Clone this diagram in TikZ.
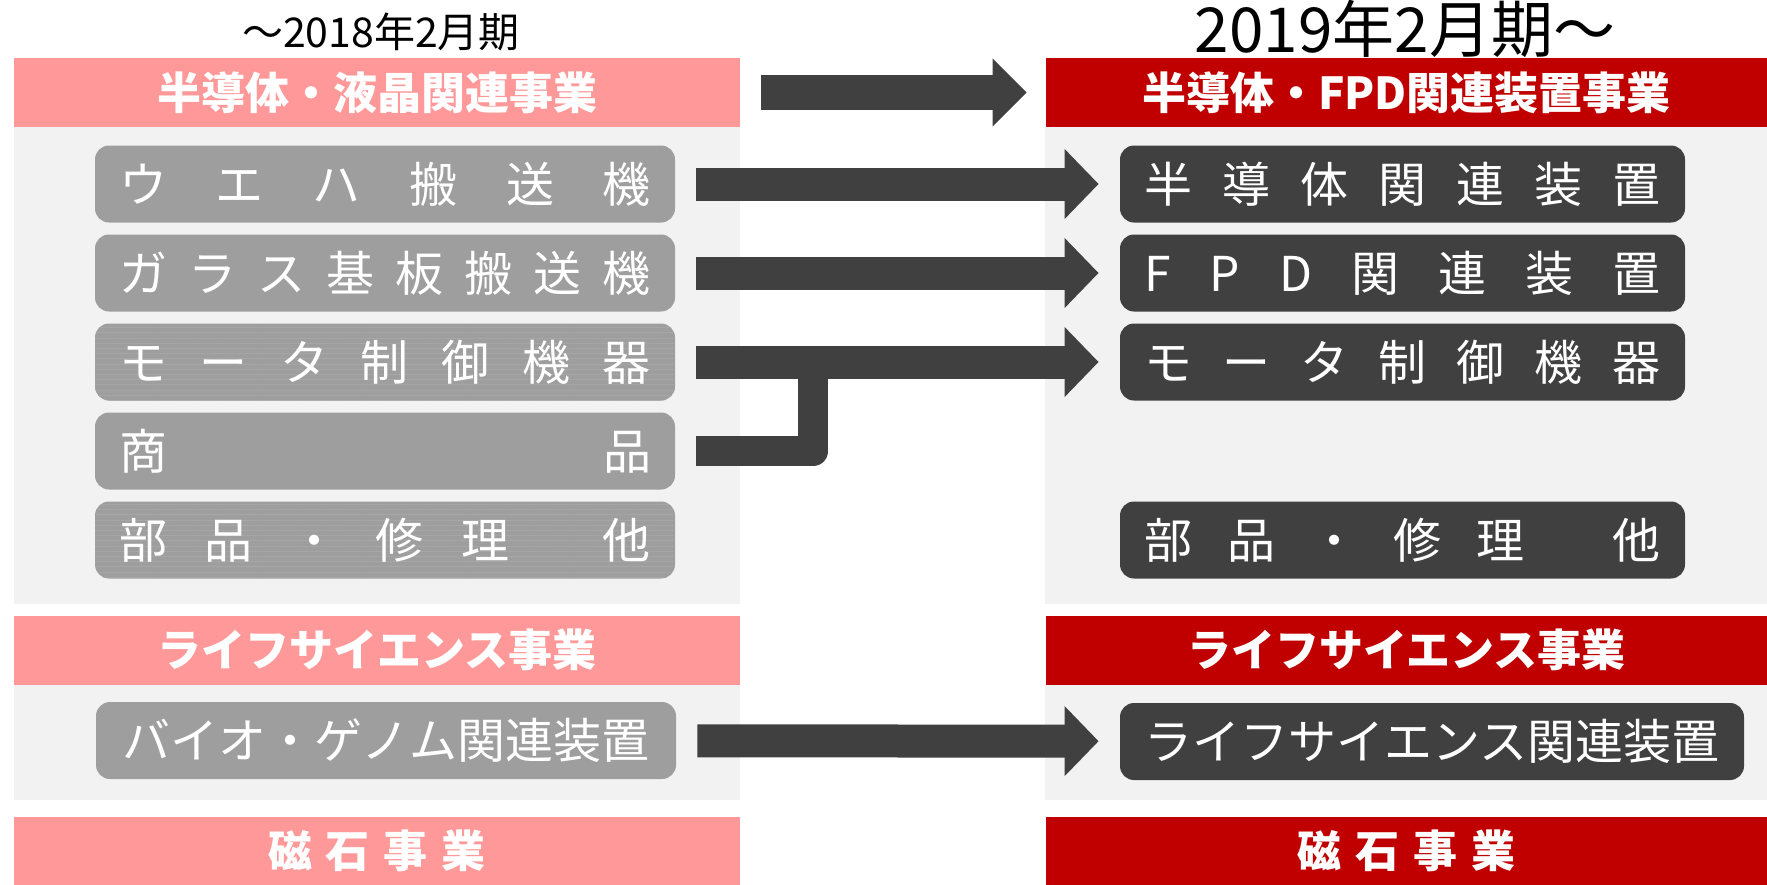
\documentclass[tikz,border=0pt]{standalone}
\usepackage{fontspec}
\usepackage{xcolor}
\usepackage{tikz}
\usetikzlibrary{arrows.meta,positioning,patterns.meta}

\setmainfont{Noto Sans CJK JP}

\definecolor{oldhead}{HTML}{FF9999}
\definecolor{newhead}{HTML}{C00000}
\definecolor{panel}{HTML}{F2F2F2}
\definecolor{oldbox}{HTML}{9E9E9E}
\definecolor{newbox}{HTML}{404040}

% characters spread over a fixed width
\newcommand{\spreadtext}[2]{\makebox[#1][s]{#2}}

\begin{document}
\begin{tikzpicture}[
    x=0.5pt, y=-0.5pt,
    node distance=44.5pt,
    header/.style={
        rectangle,
        minimum width=363pt,
        minimum height=34.5pt,
        inner sep=0pt,
        text=white,
        font=\fontsize{22pt}{24pt}\selectfont\bfseries
    },
    oldhdr/.style={header, fill=oldhead},
    newhdr/.style={header, fill=newhead, minimum width=360.5pt},
    item/.style={
        rectangle,
        rounded corners=7pt,
        minimum height=38.5pt,
        inner sep=0pt,
        text=white,
        font=\fontsize{24pt}{26pt}\selectfont
    },
    olditem/.style={item, fill=oldbox, minimum width=290pt},
    newitem/.style={item, fill=newbox, minimum width=282.5pt},
    striped/.style={
        postaction={pattern={Lines[distance=2.6pt,line width=0.3pt]}, pattern color=black!35}
    },
    line/.style={
        draw=newbox, line width=16.5pt,
        -{Triangle[length=17pt,width=34pt]},
        shorten <=10.5pt, shorten >=10.5pt
    },
    bigline/.style={
        line, line width=17.5pt,
        -{Triangle[length=17pt,width=33pt]},
        shorten >=9.5pt
    },
    feed/.style={
        draw=newbox, line width=15pt, line join=round,
        shorten <=10.5pt
    },
    title/.style={font=\fontsize{#1}{#1}\selectfont, inner sep=0pt}
]
    \useasboundingbox (0,0) rectangle (1767,884);

    % Panels
    \fill[panel] (14,127) rectangle (740,604);
    \fill[panel] (1045,127) rectangle (1767,604);
    \fill[panel] (14,685) rectangle (740,800);
    \fill[panel] (1045,685) rectangle (1767,800);

    % Titles
    \node[title=20.5pt] (oldtitle) at (381,32) {～2018年2月期};
    \node[title=31pt] (newtitle) at (1405,29) {2019年2月期～};

    % Headers
    \node[oldhdr] (oldsemi) at (377,92.5) {半導体・液晶関連事業};
    \node[newhdr] (newsemi) at (1406.5,92.5) {半導体・FPD関連装置事業};
    \node[oldhdr] (oldlife) at (377,650) {ライフサイエンス事業};
    \node[newhdr] (newlife) at (1406.5,650) {ライフサイエンス事業};
    \node[oldhdr] (oldmag) at (377,851) {磁\hspace{7pt}石\hspace{7pt}事\hspace{7pt}業};
    \node[newhdr] (newmag) at (1406.5,851) {磁\hspace{7pt}石\hspace{7pt}事\hspace{7pt}業};

    % Old items
    \node[olditem] (lwafer) at (385,184) {\spreadtext{266pt}{ウ\hfill エ\hfill ハ\hfill 搬\hfill 送\hfill 機}};
    \node[olditem, below of=lwafer] (lglass) {\spreadtext{266pt}{ガ\hfill ラ\hfill ス\hfill 基\hfill 板\hfill 搬\hfill 送\hfill 機}};
    \node[olditem, striped, below of=lglass] (lmotor) {\spreadtext{266pt}{モ\hfill ー\hfill タ\hfill 制\hfill 御\hfill 機\hfill 器}};
    \node[olditem, below of=lmotor] (lgoods) {\spreadtext{266pt}{商\hfill 品}};
    \node[olditem, striped, below of=lgoods] (lparts) {\spreadtext{266pt}{部\hfill 品\hfill ・\hfill 修\hfill 理\hspace{\stretch{2.5}}他}};
    \node[olditem] (lbio) at (386,740.5) {バイオ・ゲノム関連装置};

    % New items
    \node[newitem, right of=lwafer, node distance=508.75pt] (rsemi) {\spreadtext{258.5pt}{半\hfill 導\hfill 体\hfill 関\hfill 連\hfill 装\hfill 置}};
    \node[newitem, below of=rsemi] (rfpd) {\spreadtext{258.5pt}{F\hfill P\hfill D\hfill 関\hfill 連\hfill 装\hfill 置}};
    \node[newitem, below of=rfpd] (rmotor) {\spreadtext{258.5pt}{モ\hfill ー\hfill タ\hfill 制\hfill 御\hfill 機\hfill 器}};
    \node[newitem, below of=rmotor, node distance=89pt] (rparts) {\spreadtext{258.5pt}{部\hfill 品\hfill ・\hfill 修\hfill 理\hspace{\stretch{2.5}}他}};
    \node[newitem, minimum width=312pt] (rlife) at (1432,741.5) {ライフサイエンス関連装置};

    % Arrows
    \path[bigline] (oldsemi) -- (newsemi);
    \path[line] (lwafer) -- (rsemi);
    \path[line] (lglass) -- (rfpd);
    \path (lmotor.east) ++(138,0) coordinate (join);
    \path[feed] (lgoods.east) -| (join);
    \path[line] (lmotor) -- (rmotor);
    \path[line] (lbio) -- (rlife);

\end{tikzpicture}
\end{document}
